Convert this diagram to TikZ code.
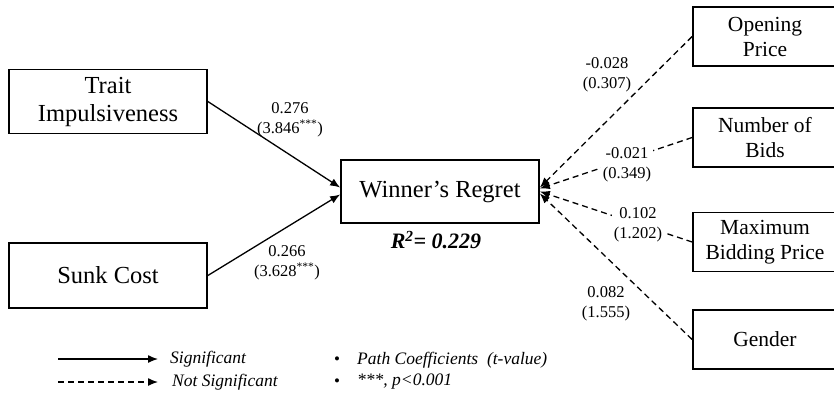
\documentclass[tikz,border=0pt]{standalone}
\usepackage{fontspec}
\setmainfont{Liberation Serif}
\usetikzlibrary{arrows.meta}
\begin{document}
\begin{tikzpicture}[x=1pt,y=-1pt,
  box/.style={draw,line width=1.7pt,align=center,inner sep=0pt},
  lbox/.style={box,minimum width=198pt,font=\fontsize{24.5}{28}\selectfont},
  rbox/.style={box,minimum width=144pt,minimum height=59pt,font=\fontsize{21.5}{25}\selectfont},
  lab/.style={align=center,font=\fontsize{16.5}{20}\selectfont,inner sep=0pt},
  wlab/.style={lab,fill=white,inner sep=2pt},
  sig/.style={line width=1.3pt,-{Latex[length=10pt,width=8pt]}},
  nsig/.style={sig,dash pattern=on 6pt off 4pt},
  leg/.style={font=\fontsize{17.5}{20}\selectfont\itshape,anchor=west,inner sep=0pt}]
\useasboundingbox (0,0) rectangle (834,397);
\clip (0,0) rectangle (834,397);
\fill[white] (0,0) rectangle (834,397);
% boxes
\node[lbox,minimum height=64pt] (ti) at (108,101.5) {Trait\\Impulsiveness};
\node[lbox,minimum height=65pt] (sc) at (108,275.5) {Sunk Cost};
\node[lbox,minimum height=63pt] (wr) at (440,191.5) {Winner’s Regret};
\node[rbox] (op) at (765,36.5) {Opening\\Price};
\node[rbox] (nb) at (765,137.5) {Number of\\Bids};
\node[rbox] (mb) at (765,242) {Maximum\\Bidding Price};
\node[rbox] (ge) at (765,339.5) {Gender};
% connectors
\draw[sig] (ti.east) -- ([yshift=4pt]wr.west);
\draw[sig] (sc.east) -- ([yshift=-3pt]wr.west);
\draw[nsig] (op.west) -- ([yshift=4pt]wr.east);
\draw[nsig] (nb.west) -- ([yshift=3pt]wr.east);
\draw[nsig] (mb.west) -- ([yshift=0pt]wr.east);
\draw[nsig] (ge.west) -- ([yshift=-2pt]wr.east);
% labels
\node[lab] (l1) at (290,120) {0.276\\(3.846\textsuperscript{***})};
\node[lab] (l2) at (287,263) {0.266\\(3.628\textsuperscript{***})};
\node[lab] (l3) at (607,75) {-0.028\\(0.307)};
\node[wlab] (l4) at (627,165) {-0.021\\(0.349)};
\node[wlab] (l5) at (638,225) {0.102\\(1.202)};
\node[lab] (l6) at (606,304) {0.082\\(1.555)};
\node[font=\fontsize{22}{24}\selectfont\bfseries\itshape] (r2) at (436,240) {R\textsuperscript{2}= 0.229};
% legend
\coordinate (s1) at (58,359); \coordinate (s2) at (158,359);
\draw[sig] (s1) -- (s2);
\node[leg] (sigt) at (170,359) {Significant};
\coordinate (n1) at (58,382); \coordinate (n2) at (158,382);
\draw[nsig] (n1) -- (n2);
\node[leg] (nsigt) at (172,382) {Not Significant};
\node[font=\fontsize{17}{20}\selectfont] (d1) at (337,361) {\textbullet};
\node[font=\fontsize{17}{20}\selectfont] (d2) at (337,383) {\textbullet};
\node[leg] (b1) at (357,360) {Path Coefficients\ \ (t-value)};
\node[leg] (b2) at (357,382) {***, p<0.001};
\end{tikzpicture}
\end{document}
